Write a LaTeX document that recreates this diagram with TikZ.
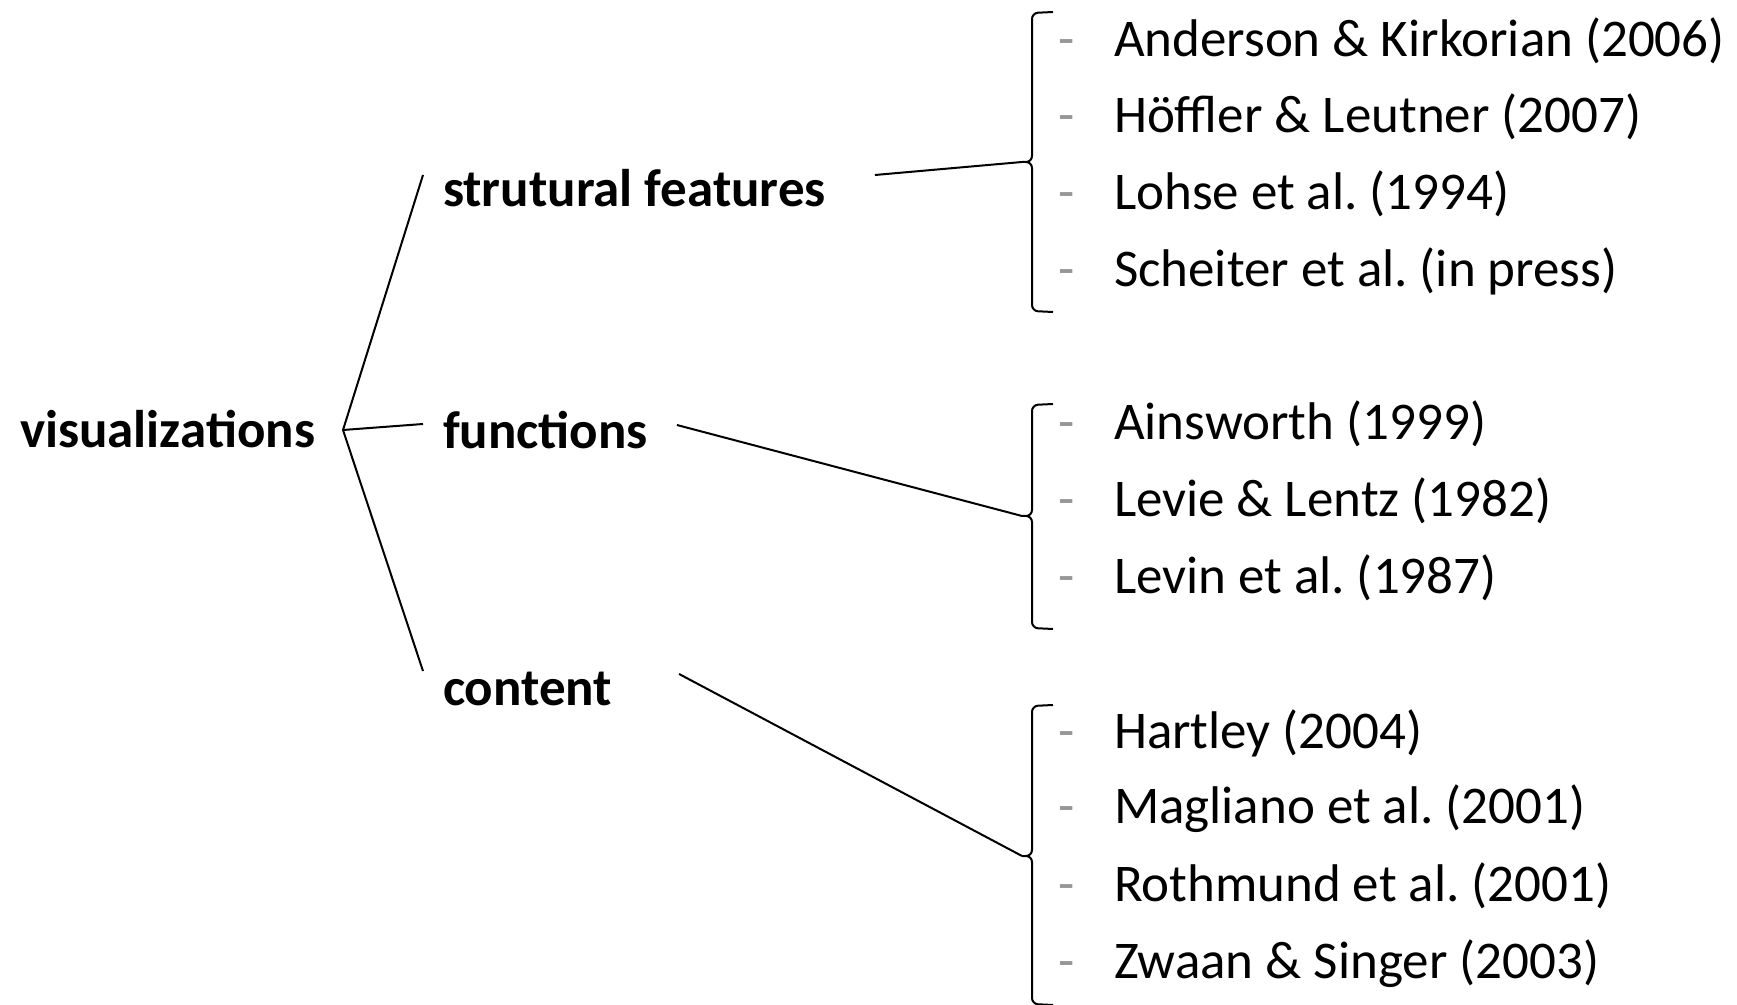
\documentclass[tikz,border=0pt]{standalone}
\usepackage{fontspec}
\setmainfont{Carlito}
\usepackage{xcolor}
\usepackage{tikz}
\usetikzlibrary{positioning}
\definecolor{bulletgray}{RGB}{150,150,150}
\frenchspacing

\begin{document}
\begin{tikzpicture}[
	x=0.5pt, y=-0.5pt,
	line width=1pt,
	topic/.style={
		font=\fontsize{26.5}{32}\selectfont\bfseries,
		inner sep=0pt,
		text height=20pt,
		text depth=6pt,
		anchor=base west
	},
	ref/.style={
		font=\fontsize{26.5}{32}\selectfont,
		inner sep=0pt,
		anchor=base west,
		execute at begin node={\makebox[28pt][l]{\textcolor{bulletgray}{-}}}
	},
	bracket/.style={
		line width=1pt,
		rounded corners=3pt
	}
	]
	\useasboundingbox (0,0) rectangle (1737,1005);
	
	% tree
	\node (root) [topic] at (19,448) {visualizations};
	\coordinate (fork) at (343,430);
	\node (sf) [topic] at (442,206.5) {strutural features};
	\node (fn) [topic] at (442,448.5) {functions};
	\node (ct) [topic] at (442,705.5) {content};
	\draw (fork) -- ([shift={(-9.5pt,8.75pt)}]sf.west);
	\draw (fork) -- ([shift={(-9.5pt,5.25pt)}]fn.west);
	\draw (fork) -- ([shift={(-9.5pt,10.25pt)}]ct.west);
	
	% structural features
	\coordinate (sftip) at (1022,162);
	\draw[bracket] (1053,12) -- (1032,13) -- (1032,162) -- (sftip)
		(sftip) -- (1032,162) -- (1032,311) -- (1053,312);
	\node (anderson) [ref] at (1057,57) {Anderson \& Kirkorian (2006)};
	\node (hoeffler) [ref] at (1057,133) {Höffler \& Leutner (2007)};
	\node (lohse) [ref] at (1057,210) {Lohse et al. (1994)};
	\node (scheiter) [ref] at (1057,287) {Scheiter et al. (in press)};
	\draw ([shift={(24pt,8.75pt)}]sf.east) -- (sftip);
	
	% functions
	\coordinate (fntip) at (1022,516);
	\draw[bracket] (1053,404) -- (1032,405) -- (1032,516) -- (fntip)
		(fntip) -- (1032,516) -- (1032,628) -- (1053,629);
	\node (ainsworth) [ref] at (1057,440) {Ainsworth (1999)};
	\node (levie) [ref] at (1057,517) {Levie \& Lentz (1982)};
	\node (levin) [ref] at (1057,594) {Levin et al. (1987)};
	\draw ([shift={(14pt,4.75pt)}]fn.east) -- (fntip);
	
	% content
	\coordinate (cttip) at (1022,856);
	\draw[bracket] (1053,705) -- (1032,706) -- (1032,856) -- (cttip)
		(cttip) -- (1032,856) -- (1032,1004) -- (1053,1005);
	\node (hartley) [ref] at (1057,748) {Hartley (2004)};
	\node (magliano) [ref] at (1057,824) {Magliano et al. (2001)};
	\node (rothmund) [ref] at (1057,901) {Rothmund et al. (2001)};
	\node (zwaan) [ref] at (1057,978) {Zwaan \& Singer (2003)};
	\draw ([shift={(33pt,8.75pt)}]ct.east) -- (cttip);
	
\end{tikzpicture}
\end{document}
